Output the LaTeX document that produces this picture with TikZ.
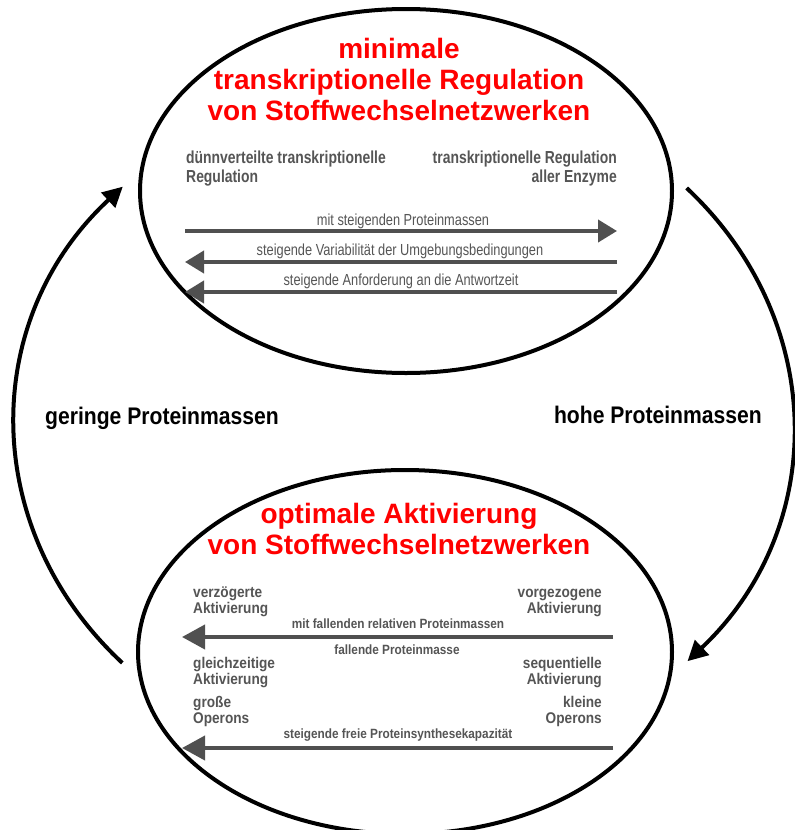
\documentclass[tikz,border=0pt]{standalone}
\usepackage{fontspec}
\setmainfont{Liberation Sans}
\newfontfamily\narrowa[FakeStretch=0.8]{Liberation Sans}
\newfontfamily\narrowb[FakeStretch=0.88]{Liberation Sans}
\usetikzlibrary{shapes.geometric,arrows.meta}
\definecolor{titlered}{RGB}{255,0,0}
\definecolor{labelgray}{RGB}{85,85,85}
\definecolor{arrowgray}{RGB}{80,80,80}

\begin{document}
\begin{tikzpicture}[x=1pt,y=-1pt,
  stage/.style={ellipse, draw=black, line width=4pt, inner sep=0pt},
  stagetitle/.style={inner sep=0pt, text=titlered, align=center, anchor=base,
    font=\bfseries\fontsize{28}{31}\selectfont},
  toplabel/.style={inner sep=0pt, text=labelgray,
    font=\narrowa\bfseries\fontsize{17.4}{19}\selectfont},
  toparrowlabel/.style={inner sep=0pt, text=labelgray, anchor=base,
    font=\narrowa\fontsize{16}{18}\selectfont},
  botlabel/.style={inner sep=0pt, text=labelgray,
    font=\narrowb\bfseries\fontsize{15.5}{15.5}\selectfont},
  botarrowlabel/.style={inner sep=0pt, text=labelgray, anchor=base,
    font=\narrowb\bfseries\fontsize{13.4}{15}\selectfont},
  looplabel/.style={inner sep=0pt, text=black, anchor=base,
    font=\narrowb\bfseries\fontsize{24}{28}\selectfont},
  trend/.style={line width=4pt, draw=arrowgray,
    -{Triangle[length=19pt,width=22pt]}},
  bigtrend/.style={line width=4pt, draw=arrowgray,
    -{Triangle[length=23pt,width=24pt]}},
  loopedge/.style={line width=4pt, draw=black,
    -{Triangle[length=20pt,width=20pt]}}
]
\useasboundingbox (0,0) rectangle (795,830);
\clip (0,0) rectangle (795,830);
\fill[white] (0,0) rectangle (795,830);

% the two regulation stages
\node[stage, minimum width=532pt, minimum height=364pt] (upper) at (406,191) {};
\node[stage, minimum width=534pt, minimum height=364pt] (lower) at (405,652) {};

% upper stage: title and extremes (multi-line nodes sit on their last baseline)
\node[stagetitle] (uppertitle) at (399,120)
  {minimale\\transkriptionelle Regulation\\von Stoffwechselnetzwerken};
\node[toplabel, anchor=base west, align=left] (sparse) at (186,182)
  {dünnverteilte transkriptionelle\\Regulation};
\node[toplabel, anchor=base east, align=right] (dense) at (617,182)
  {transkriptionelle Regulation\\aller Enzyme};

% upper stage: trends
\coordinate (u1l) at (185,231); \coordinate (u1r) at (617,231);
\coordinate (u2l) at (185,262); \coordinate (u2r) at (617,262);
\coordinate (u3l) at (185,292); \coordinate (u3r) at (617,292);
\draw[trend] (u1l) -- (u1r);
\draw[trend] (u2r) -- (u2l);
\draw[trend] (u3r) -- (u3l);
\node[toparrowlabel] (u1t) at (403,225) {mit steigenden Proteinmassen};
\node[toparrowlabel] (u2t) at (400,255) {steigende Variabilität der Umgebungsbedingungen};
\node[toparrowlabel] (u3t) at (401,285) {steigende Anforderung an die Antwortzeit};

% lower stage: title and extremes
\node[stagetitle] (lowertitle) at (399,554)
  {optimale Aktivierung\\von Stoffwechselnetzwerken};
\node[botlabel, anchor=base west, align=left] (late) at (193,613)
  {verzögerte\\Aktivierung};
\node[botlabel, anchor=base east, align=right] (early) at (602,613)
  {vorgezogene\\Aktivierung};
\node[botlabel, anchor=base west, align=left] (simul) at (193,684)
  {gleichzeitige\\Aktivierung};
\node[botlabel, anchor=base east, align=right] (seq) at (602,684)
  {sequentielle\\Aktivierung};
\node[botlabel, anchor=base west, align=left] (bigop) at (193,723)
  {große\\Operons};
\node[botlabel, anchor=base east, align=right] (smallop) at (602,723)
  {kleine\\Operons};

% lower stage: trends
\coordinate (l1l) at (182,637); \coordinate (l1r) at (613,637);
\coordinate (l2l) at (182,748); \coordinate (l2r) at (613,748);
\draw[bigtrend] (l1r) -- (l1l);
\draw[bigtrend] (l2r) -- (l2l);
\node[botarrowlabel] (l1t) at (398,628) {mit fallenden relativen Proteinmassen};
\node[botarrowlabel] (l1b) at (397,654) {fallende Proteinmasse};
\node[botarrowlabel] (l2t) at (398,738) {steigende freie Proteinsynthesekapazität};

% cycle between the stages
\coordinate (hub) at (404,425);
\path (hub) ++(136.4:389 and 345) coordinate (lowleft);
\path (hub) ++(-43.4:389 and 345) coordinate (upright);
\draw[loopedge] (lowleft) arc[start angle=136.4, end angle=223.7, x radius=389, y radius=345];
\draw[loopedge] (upright) arc[start angle=-43.4, end angle=43.2, x radius=389, y radius=345];
\node[looplabel, anchor=base west] (lowmass) at (45,424) {geringe Proteinmassen};
\node[looplabel, anchor=base east] (highmass) at (762,423) {hohe Proteinmassen};
\end{tikzpicture}
\end{document}
